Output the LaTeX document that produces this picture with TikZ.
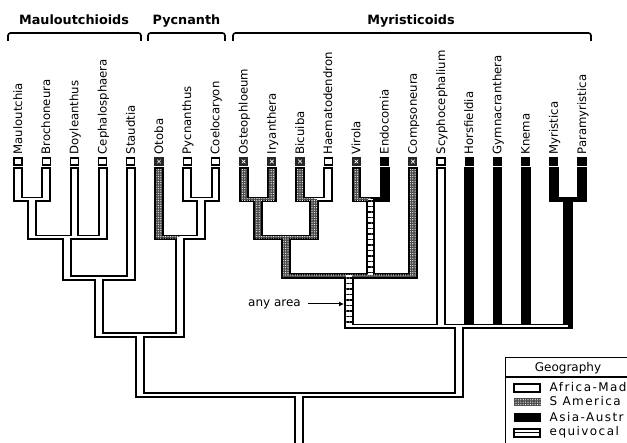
\documentclass[tikz,border=0pt]{standalone}
\usepackage{fontspec}
\setmainfont{DejaVu Sans}
\newfontfamily\legfont[LetterSpace=12]{DejaVu Sans}
\usetikzlibrary{patterns.meta,arrows.meta}
\tikzset{
  brW/.style={fill=white},
  brS/.style={fill=black!70, postaction={pattern={Dots[distance=2.4pt,radius=0.6pt]}, pattern color=white}},
  brB/.style={fill=black},
  brE/.style={fill=white, postaction={pattern={Lines[angle=0,distance=5.5pt,line width=1.1pt]}, pattern color=black}},
  taxon/.style={rotate=90, anchor=base west, inner sep=0pt, font=\fontsize{11.7}{13}\selectfont},
  grouplabel/.style={anchor=base, inner sep=0pt, font=\bfseries\fontsize{12.8}{15}\selectfont},
  bracket/.style={line width=1.6pt, rounded corners=2.5pt},
  legtext/.style={anchor=base west, inner sep=0pt, font=\legfont\fontsize{12}{14}\selectfont},
  legtitle/.style={anchor=base, inner sep=0pt, font=\fontsize{12}{14}\selectfont},
}
% pass A: black outline shapes; pass B: fills
\newcommand\BrOut[6]{%
  \fill[black] ({#1-4.9},{#2}) rectangle ({#1+4.9},{#4+2.8});
  \fill[black] ({#1},{#4-2.8}) rectangle ({#3},{#4+2.8});}
\newcommand\BrIn[6]{%
  \fill[#5] ({#1-2.9},{#2+2}) rectangle ({#1+2.9},{#4+1});
  \fill[#6] ({#1},{#4-1}) rectangle ({#3},{#4+1});}
\newcommand\alltree{%
  \Br{18}{167}{32.1}{199.5}{brW}{brW}
  \Br{46.2}{167}{32.1}{199.5}{brW}{brW}
  \Br{74.4}{167}{67.35}{237.5}{brW}{brW}
  \Br{102.6}{167}{67.35}{237.5}{brW}{brW}
  \Br{32.1}{196.7}{67.35}{237.5}{brW}{brW}
  \Br{130.8}{167}{99.1}{278}{brW}{brW}
  \Br{67.35}{234.7}{99.1}{278}{brW}{brW}
  \Br{187.2}{167}{201.3}{199.5}{brW}{brW}
  \Br{215.4}{167}{201.3}{199.5}{brW}{brW}
  \Br{159}{167}{180.15}{237.5}{brS}{brS}
  \Br{201.3}{196.7}{180.15}{237.5}{brW}{brW}
  \Br{99.1}{275.2}{139.6}{335}{brW}{brW}
  \Br{180.15}{234.7}{139.6}{335}{brW}{brW}
  \Br{139.6}{332.2}{299.1}{395}{brW}{brW}
  \Br{243.6}{167}{257.7}{199.5}{brS}{brS}
  \Br{271.8}{167}{257.7}{199.5}{brS}{brS}
  \Br{300}{167}{314.1}{199.5}{brS}{brS}
  \Br{328.2}{167}{314.1}{199.5}{brW}{brW}
  \Br{257.7}{196.7}{285.9}{237.5}{brS}{brS}
  \Br{314.1}{196.7}{285.9}{237.5}{brS}{brS}
  \Br{356.4}{167}{370.5}{199.5}{brS}{brS}
  \Br{384.6}{167}{370.5}{199.5}{brB}{brB}
  \Br{285.9}{234.7}{349.35}{276}{brS}{brS}
  \Br{370.5}{196.7}{349.35}{276}{brE}{brW}
  \Br{412.8}{167}{349.35}{276}{brS}{brS}
  \Br{349.35}{273.2}{458.6}{326.5}{brE}{brW}
  \Br{441}{167}{458.6}{326.5}{brW}{brW}
  \Br{469.2}{167}{458.6}{326.5}{brB}{brW}
  \Br{497.4}{167}{458.6}{326.5}{brB}{brW}
  \Br{525.6}{167}{458.6}{326.5}{brB}{brW}
  \Br{553.8}{167}{567.9}{199.5}{brB}{brB}
  \Br{582}{167}{567.9}{199.5}{brB}{brB}
  \Br{567.9}{196.7}{458.6}{326.5}{brB}{brW}
  \Br{458.6}{323.7}{299.1}{395}{brW}{brW}
  \Br{299.1}{392.2}{299.1}{450}{brW}{brW}
}
% terminal boxes: W white, S stippled, B black
\newcommand\TW[1]{\draw[line width=1.1pt, fill=white] ({#1-4},158) rectangle ({#1+4},165);}
\newcommand\TS[1]{\fill[black!85] ({#1-4.6},157.4) rectangle ({#1+4.6},165.6);
  \draw[white, line width=0.7pt] ({#1-1.8},159.7) -- ({#1+1.8},163.3) ({#1-1.8},163.3) -- ({#1+1.8},159.7);}
\newcommand\TB[1]{\fill[black] ({#1-4.6},157.4) rectangle ({#1+4.6},165.6);}
\begin{document}
\begin{tikzpicture}[x=1pt,y=-1pt]
\fill[white] (0,0) rectangle (627,443);
\useasboundingbox (0,0) rectangle (627,443);
\begin{scope}
\clip (0,0) rectangle (627,443);
% tree
\let\Br\BrOut \alltree
\let\Br\BrIn \alltree
% terminal boxes
\TW{18}\TW{46.2}\TW{74.4}\TW{102.6}\TW{130.8}
\TS{159}\TW{187.2}\TW{215.4}
\TS{243.6}\TS{271.8}\TS{300}\TW{328.2}\TS{356.4}\TB{384.6}\TS{412.8}
\TW{441}\TB{469.2}\TB{497.4}\TB{525.6}\TB{553.8}\TB{582}
% taxon labels
\node[taxon] (t0) at (22,154.5) {Mauloutchia};
\node[taxon] (t1) at (50.2,154.5) {Brochoneura};
\node[taxon] (t2) at (78.4,154.5) {Doyleanthus};
\node[taxon] (t3) at (106.6,154.5) {Cephalosphaera};
\node[taxon] (t4) at (134.8,154.5) {Staudtia};
\node[taxon] (t5) at (163,154.5) {Otoba};
\node[taxon] (t6) at (191.2,154.5) {Pycnanthus};
\node[taxon] (t7) at (219.4,154.5) {Coelocaryon};
\node[taxon] (t8) at (247.6,154.5) {Osteophloeum};
\node[taxon] (t9) at (275.8,154.5) {Iryanthera};
\node[taxon] (t10) at (304,154.5) {Bicuiba};
\node[taxon] (t11) at (332.2,154.5) {Haematodendron};
\node[taxon] (t12) at (360.4,154.5) {Virola};
\node[taxon] (t13) at (388.6,154.5) {Endocomia};
\node[taxon] (t14) at (416.8,154.5) {Compsoneura};
\node[taxon] (t15) at (445,154.5) {Scyphocephalium};
\node[taxon] (t16) at (473.2,154.5) {Horsfieldia};
\node[taxon] (t17) at (501.4,154.5) {Gymnacranthera};
\node[taxon] (t18) at (529.6,154.5) {Knema};
\node[taxon] (t19) at (557.8,154.5) {Myristica};
\node[taxon] (t20) at (586,154.5) {Paramyristica};
% group headings and brackets
\node[grouplabel] (g1) at (74,25) {Mauloutchioids};
\node[grouplabel] (g2) at (186.5,25) {Pycnanth};
\node[grouplabel] (g3) at (411,25) {Myristicoids};
\draw[bracket] (8,41) -- (8,33) -- (141,33) -- (141,41);
\draw[bracket] (148,41) -- (148,33) -- (225,33) -- (225,41);
\draw[bracket] (233,41) -- (233,33) -- (591,33) -- (591,41);
% any area
\node[anchor=base, inner sep=0pt, font=\fontsize{12}{14}\selectfont] (anyarea) at (274.5,307) {any area};
\coordinate (aa) at (344,304);
\draw[line width=1pt, -{Latex[length=5pt,width=5pt]}, shorten <=7pt] (anyarea.east |- aa) -- (aa);
% legend
\draw[line width=1.2pt] (505.5,450) -- (505.5,357.5) -- (632,357.5);
\draw[line width=1.2pt] (505.5,377) -- (632,377);
\node[legtitle] (legt) at (568,372) {Geography};
\draw[line width=1.1pt, fill=white] (514,384) rectangle (540,392);
\fill[brS] (513.5,398) rectangle (540.5,406);
\fill[black] (513.5,413.5) rectangle (540.5,422);
\draw[line width=1.1pt, fill=white] (514,429) rectangle (540,437);
\draw[line width=1pt] (514,433) -- (540,433);
\node[legtext] (l1) at (549.5,392) {Africa-Mad};
\node[legtext] (l2) at (549.5,406) {S America};
\node[legtext] (l3) at (549.5,421.5) {Asia-Austr};
\node[legtext] (l4) at (549.5,436) {equivocal};
\end{scope}
\end{tikzpicture}
\end{document}
